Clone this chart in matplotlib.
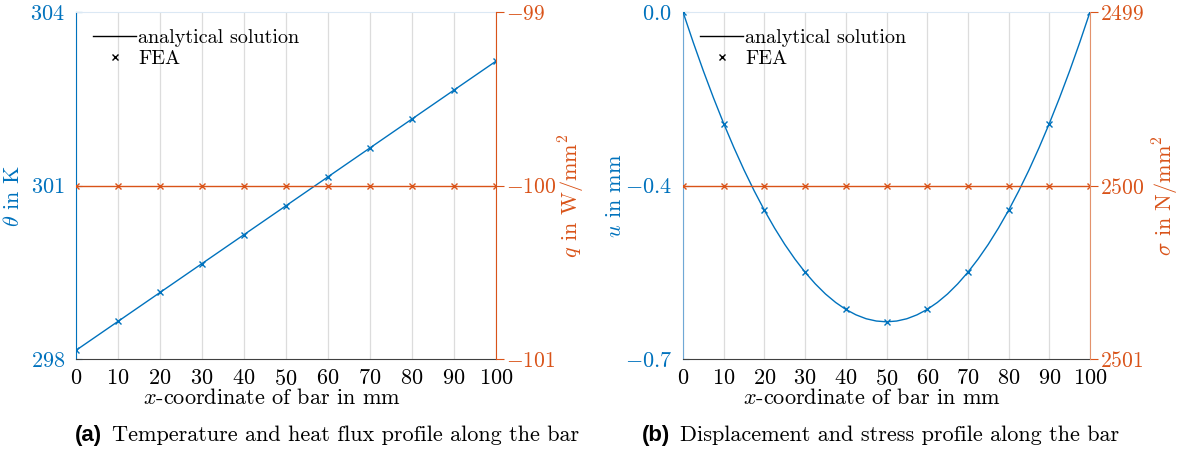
#!/usr/bin/env python3
"""Temperatur-/Wärmestrom- und Verschiebungs-/Spannungsverlauf eines Stabs."""

import matplotlib

matplotlib.use("Agg")
import matplotlib.pyplot as plt
from matplotlib.lines import Line2D
from matplotlib.ticker import FixedFormatter, FixedLocator, ScalarFormatter

plt.rcParams.update(
    {
        "font.family": "serif",
        "font.serif": ["cmr10"],
        "mathtext.fontset": "cm",
        "axes.formatter.use_mathtext": True,
        "font.size": 16,
    }
)

BLUE = "#0072BD"
ORANGE = "#D95319"
BLUE_LIGHT = "#6FA8D6"
ORANGE_LIGHT = "#E3926C"

# x-Positionen (mm)
x_fea = [0, 10, 20, 30, 40, 50, 60, 70, 80, 90, 100]
x_line = [0, 2.5, 5, 7.5, 10, 12.5, 15, 17.5, 20, 22.5, 25, 27.5, 30,
          32.5, 35, 37.5, 40, 42.5, 45, 47.5, 50, 52.5, 55, 57.5, 60,
          62.5, 65, 67.5, 70, 72.5, 75, 77.5, 80, 82.5, 85, 87.5, 90,
          92.5, 95, 97.5, 100]

# (a) Temperatur in K und Wärmestrom in W/mm^2
theta_line_x = [0, 100]
theta_line = [298.15, 303.15]
theta_fea = [298.15, 298.65, 299.15, 299.65, 300.15, 300.65,
             301.15, 301.65, 302.15, 302.65, 303.15]
q_line_x = [0, 100]
q_line = [-100.0, -100.0]
q_fea = [-100.0] * 11

# (b) Verschiebung in mm und Spannung in N/mm^2
u_line = [0.0, -0.0609, -0.1188, -0.1734, -0.225, -0.2734, -0.3188,
          -0.3609, -0.4, -0.4359, -0.4688, -0.4984, -0.525, -0.5484,
          -0.5688, -0.5859, -0.6, -0.6109, -0.6188, -0.6234, -0.625,
          -0.6234, -0.6188, -0.6109, -0.6, -0.5859, -0.5688, -0.5484,
          -0.525, -0.4984, -0.4688, -0.4359, -0.4, -0.3609, -0.3188,
          -0.2734, -0.225, -0.1734, -0.1188, -0.0609, 0.0]
u_fea = [0.0, -0.225, -0.4, -0.525, -0.6, -0.625, -0.6, -0.525, -0.4,
         -0.225, 0.0]
sigma_line_x = [0, 100]
sigma_line = [2500.0, 2500.0]
sigma_fea = [2500.0] * 11

x_ticks = [0, 10, 20, 30, 40, 50, 60, 70, 80, 90, 100]
theta_ticks = [298, 301, 304]
q_ticks = [-101, -100, -99]
u_ticks = [0.0, -0.35, -0.7]
u_tick_labels = ["$0.0$", "$-0.4$", "$-0.7$"]
sigma_ticks = [2499, 2500, 2501]


def _style(ax, ax2, left_col, right_col, top_col):
    ax.set_xlim(0, 100)
    ax.xaxis.set_major_locator(FixedLocator(x_ticks))
    ax.tick_params(axis="x", length=0, pad=7, colors="black")
    ax.grid(axis="x", color="#dcdcdc", lw=0.9)
    ax.set_axisbelow(True)

    ax.spines["left"].set_color(left_col)
    ax.spines["top"].set_color(top_col)
    ax.spines["bottom"].set_color("#404040")
    ax.spines["right"].set_visible(False)
    ax.tick_params(axis="y", direction="in", length=4, colors=BLUE, pad=8)
    ax.yaxis.label.set_color(BLUE)

    for side in ("left", "top", "bottom"):
        ax2.spines[side].set_visible(False)
    ax2.spines["right"].set_color(right_col)
    ax2.tick_params(axis="y", direction="out", length=6, colors=ORANGE,
                    pad=1.5, labelsize=15.5)
    ax2.yaxis.label.set_color(ORANGE)


def _legend(ax):
    handles = [
        Line2D([], [], color="black", lw=1.0),
        Line2D([], [], color="black", lw=0, marker="x", ms=5, mew=1.0),
    ]
    ax.legend(handles, ["analytical solution", "FEA"], loc="upper left",
              bbox_to_anchor=(0.0, 1.0), frameon=False, handlelength=2.15,
              handletextpad=0.1, labelspacing=0.15, borderaxespad=0.55,
              borderpad=0.3, fontsize=14.5)


fig = plt.figure(figsize=(11.8, 4.55), dpi=100)

# (a)
ax_a = fig.add_axes([76 / 1180, 96 / 455, 420 / 1180, 347 / 455])
ax_a2 = ax_a.twinx()
ax_a.plot(theta_line_x, theta_line, color=BLUE, lw=1.0, zorder=3)
ax_a.plot(x_fea, theta_fea, ls="none", marker="x", ms=5, mew=1.0,
          color=BLUE, zorder=3)
ax_a2.plot(q_line_x, q_line, color=ORANGE, lw=1.0)
ax_a2.plot(x_fea, q_fea, ls="none", marker="x", ms=5, mew=1.0,
           color=ORANGE)
ax_a.set_ylim(298, 304)
ax_a.yaxis.set_major_locator(FixedLocator(theta_ticks))
ax_a2.set_ylim(-101, -99)
ax_a2.yaxis.set_major_locator(FixedLocator(q_ticks))
_style(ax_a, ax_a2, BLUE, ORANGE, "#dbe8f4")
ax_a.set_xlabel("$x$-coordinate of bar in mm")
ax_a.xaxis.set_label_coords(0.467, -0.083)
ax_a.set_ylabel(r"$\theta$ in K")
ax_a.yaxis.set_label_coords(-0.126, 0.47)
ax_a2.set_ylabel(r"$q$ in W/mm$^2$")
ax_a2.yaxis.set_label_coords(1.145, 0.47)
_legend(ax_a)

# (b)
ax_b = fig.add_axes([683 / 1180, 96 / 455, 407 / 1180, 347 / 455])
ax_b2 = ax_b.twinx()
ax_b.plot(x_line, u_line, color=BLUE, lw=1.0, zorder=3)
ax_b.plot(x_fea, u_fea, ls="none", marker="x", ms=5, mew=1.0,
          color=BLUE, zorder=3)
ax_b2.plot(sigma_line_x, sigma_line, color=ORANGE, lw=1.0)
ax_b2.plot(x_fea, sigma_fea, ls="none", marker="x", ms=5, mew=1.0,
           color=ORANGE)
ax_b.set_ylim(-0.7, 0.0)
ax_b.yaxis.set_major_locator(FixedLocator(u_ticks))
ax_b.yaxis.set_major_formatter(FixedFormatter(u_tick_labels))
ax_b2.set_ylim(2501, 2499)
ax_b2.yaxis.set_major_locator(FixedLocator(sigma_ticks))
ax_b2.yaxis.set_major_formatter(ScalarFormatter(useOffset=False))
_style(ax_b, ax_b2, BLUE_LIGHT, ORANGE_LIGHT, "#dbe8f4")
ax_b.set_xlabel("$x$-coordinate of bar in mm")
ax_b.xaxis.set_label_coords(0.464, -0.083)
ax_b.set_ylabel(r"$u$ in mm")
ax_b.yaxis.set_label_coords(-0.1425, 0.47)
ax_b2.set_ylabel(r"$\sigma$ in N/mm$^2$")
ax_b2.yaxis.set_label_coords(1.151, 0.47)
_legend(ax_b)

# Bildunterschriften
cap_y = 1 - 435 / 455
fig.text(75 / 1180, cap_y, "(a)", family="Liberation Sans",
         weight="bold", fontsize=16, va="center")
fig.text(112 / 1180, cap_y, "Temperature and heat flux profile along the bar",
         fontsize=16, va="center")
fig.text(642 / 1180, cap_y, "(b)", family="Liberation Sans",
         weight="bold", fontsize=16, va="center")
fig.text(680 / 1180, cap_y, "Displacement and stress profile along the bar",
         fontsize=16, va="center")

fig.savefig("out.png", dpi=100)
plt.close(fig)
